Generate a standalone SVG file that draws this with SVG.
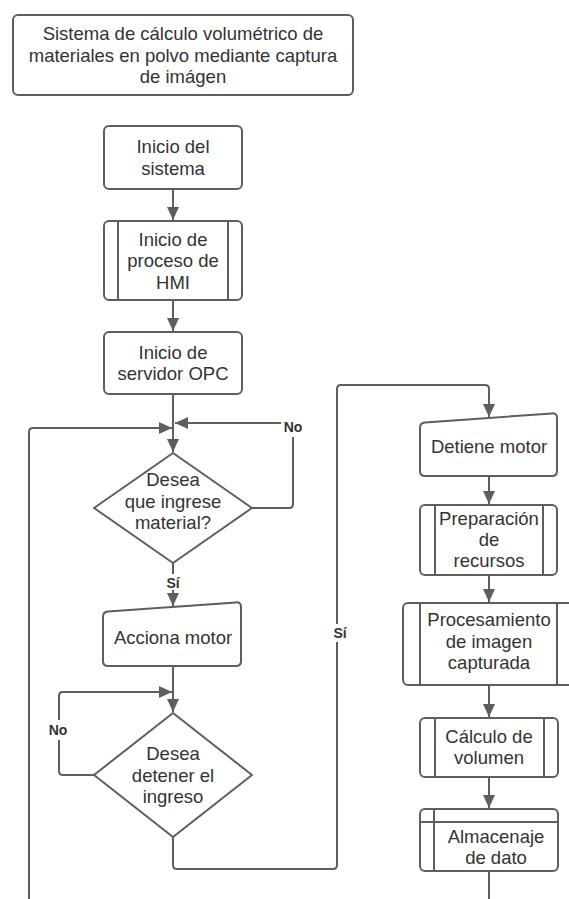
<svg xmlns="http://www.w3.org/2000/svg" width="569" height="899" viewBox="0 0 569 899">
  <defs>
    <style>
      .box{fill:#fff;stroke:#5e5e5e;stroke-width:2;stroke-linejoin:round}
      .sep{fill:none;stroke:#5e5e5e;stroke-width:2}
      .ln{fill:none;stroke:#5e5e5e;stroke-width:2}
      .t{font-family:"Liberation Sans",Arial,sans-serif;font-size:18.5px;fill:#333;text-anchor:middle}
      .lb{font-family:"Liberation Sans",Arial,sans-serif;font-size:14px;font-weight:bold;fill:#333;text-anchor:middle}
      .bg{fill:#fff}
    </style>
    <marker id="arrow" markerUnits="userSpaceOnUse" markerWidth="13" markerHeight="12" refX="13" refY="6" orient="auto">
      <path d="M0,0 L13,6 L0,12 Z" fill="#5e5e5e"/>
    </marker>
  </defs>
  <rect width="569" height="899" fill="#fff"/>

  <!-- connectors -->
  <g id="connectors">
    <path class="ln" d="M173,189 V220" marker-end="url(#arrow)"/>
    <path class="ln" d="M173,300 V331" marker-end="url(#arrow)"/>
    <path class="ln" d="M173,394 V452" marker-end="url(#arrow)"/>
    <path class="ln" d="M252,508 H289 Q293,508 293,504 V427 Q293,423 289,423 H175" marker-end="url(#arrow)"/>
    <path class="ln" d="M29,899 V432 Q29,428 33,428 H172" marker-end="url(#arrow)"/>
    <path class="ln" d="M173,563 V606" marker-end="url(#arrow)"/>
    <path class="ln" d="M173,666 V712" marker-end="url(#arrow)"/>
    <path class="ln" d="M94,775 H63 Q59,775 59,771 V696 Q59,692 63,692 H172" marker-end="url(#arrow)"/>
    <path class="ln" d="M173,837 V865 Q173,869 177,869 H333 Q337,869 337,865 V389 Q337,385 341,385 H485 Q489,385 489,389 V417" marker-end="url(#arrow)"/>
    <path class="ln" d="M489,476 V504" marker-end="url(#arrow)"/>
    <path class="ln" d="M489,575 V602" marker-end="url(#arrow)"/>
    <path class="ln" d="M489,685 V717" marker-end="url(#arrow)"/>
    <path class="ln" d="M489,777 V808" marker-end="url(#arrow)"/>
    <path class="ln" d="M489,871 V899"/>
    <!-- branch labels -->
    <rect class="bg" x="281" y="416" width="24" height="21"/>
    <text class="lb" x="293" y="432">No</text>
    <rect class="bg" x="162" y="574" width="22" height="16"/>
    <text class="lb" x="173" y="588">Sí</text>
    <rect class="bg" x="46" y="720" width="25" height="20"/>
    <text class="lb" x="58" y="735">No</text>
    <rect class="bg" x="329" y="624" width="20" height="18"/>
    <text class="lb" x="340" y="638">Sí</text>
  </g>

  <g id="title">
    <rect class="box" x="13" y="15" width="340" height="80" rx="5"/>
    <text class="t" x="183" y="40">Sistema de cálculo volumétrico de</text>
    <text class="t" x="183" y="61.5">materiales en polvo mediante captura</text>
    <text class="t" x="183" y="83">de imágen</text>
  </g>

  <g id="inicio-sistema">
    <rect class="box" x="104" y="126" width="138" height="63" rx="5"/>
    <text class="t" x="173" y="153">Inicio del</text>
    <text class="t" x="173" y="174.5">sistema</text>
  </g>

  <g id="proceso-hmi">
    <rect class="box" x="104" y="221" width="138" height="79" rx="5"/>
    <path class="sep" d="M118,221 V300 M228,221 V300"/>
    <text class="t" x="173" y="245.5">Inicio de</text>
    <text class="t" x="173" y="267">proceso de</text>
    <text class="t" x="173" y="288.5">HMI</text>
  </g>

  <g id="servidor-opc">
    <rect class="box" x="104" y="332" width="138" height="62" rx="5"/>
    <text class="t" x="173" y="358.5">Inicio de</text>
    <text class="t" x="173" y="380">servidor OPC</text>
  </g>

  <g id="decision-ingreso">
    <polygon class="box" points="173,453 252,508 173,563 94,508"/>
    <text class="t" x="173" y="486">Desea</text>
    <text class="t" x="173" y="507.5">que ingrese</text>
    <text class="t" x="173" y="529">material?</text>
  </g>

  <g id="acciona-motor">
    <path class="box" d="M103,617 Q103,612 108,611.6 L236,602.4 Q241,602 241,607 V661 Q241,666 236,666 H108 Q103,666 103,661 Z"/>
    <text class="t" x="173" y="644">Acciona motor</text>
  </g>

  <g id="decision-detener">
    <polygon class="box" points="173,713 252,775 173,837 94,775"/>
    <text class="t" x="173" y="760">Desea</text>
    <text class="t" x="173" y="781.5">detener el</text>
    <text class="t" x="173" y="803">ingreso</text>
  </g>

  <g id="detiene-motor">
    <path class="box" d="M420,428 Q420,423 425,422.6 L552,413.4 Q557,413 557,418 V471 Q557,476 552,476 H425 Q420,476 420,471 Z"/>
    <text class="t" x="489" y="453">Detiene motor</text>
  </g>

  <g id="preparacion">
    <rect class="box" x="420" y="505" width="137" height="70" rx="5"/>
    <path class="sep" d="M435,505 V575 M543,505 V575"/>
    <text class="t" x="489" y="525">Preparación</text>
    <text class="t" x="489" y="546">de</text>
    <text class="t" x="489" y="567">recursos</text>
  </g>

  <g id="procesamiento">
    <rect class="box" x="403" y="603" width="171" height="82" rx="5"/>
    <path class="sep" d="M420,603 V685 M557,603 V685"/>
    <text class="t" x="489" y="626">Procesamiento</text>
    <text class="t" x="489" y="647.5">de imagen</text>
    <text class="t" x="489" y="669">capturada</text>
  </g>

  <g id="calculo-volumen">
    <rect class="box" x="420" y="718" width="138" height="59" rx="5"/>
    <path class="sep" d="M435,718 V777 M544,718 V777"/>
    <text class="t" x="489" y="743">Cálculo de</text>
    <text class="t" x="489" y="764">volumen</text>
  </g>

  <g id="almacenaje">
    <rect class="box" x="420" y="809" width="138" height="62" rx="5"/>
    <path class="sep" d="M434,809 V871 M420,822 H558"/>
    <text class="t" x="496" y="843">Almacenaje</text>
    <text class="t" x="496" y="864">de dato</text>
  </g>
</svg>
